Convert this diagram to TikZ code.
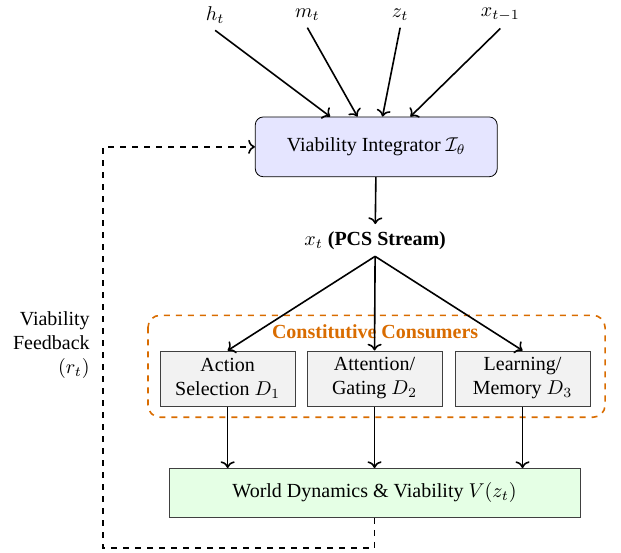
\documentclass[tikz,border=0pt]{standalone}
\usepackage{fontspec}
\setmainfont{Liberation Serif}
\usepackage{amsmath}
\usetikzlibrary{positioning, calc}
\usetikzlibrary{arrows.meta}

\begin{document}
\begin{tikzpicture}[
  every node/.style={font=\normalsize},
  integ/.style={draw, rounded corners=4pt, fill=blue!10, minimum width=4.25cm, minimum height=1.05cm},
  consumer/.style={draw=black!75, fill=gray!10, minimum width=2.37cm, minimum height=0.97cm, align=center, inner sep=2pt},
  world/.style={draw=black!75, fill=green!10, minimum width=7.22cm, minimum height=0.86cm},
  flow/.style={->, thick},
  fb/.style={->, thick, dashed}
]
  \useasboundingbox (0,0) rectangle (10.91,-9.70);

  % Ingressi
  \node (ht)  at (3.78,-0.26) {$h_t$};
  \node (mt)  at (5.40,-0.26) {$m_t$};
  \node (zt)  at (7.03,-0.26) {$z_t$};
  \node (xt1) at (8.79,-0.26) {$x_{t-1}$};

  % Integratore e flusso
  \node[integ] (I) at (6.61,-2.58) {Viability Integrator $\mathcal{I}_\theta$};
  \node (xt) at (6.59,-4.22) {$x_t$ \textbf{(PCS Stream)}};

  % Consumatori
  \draw[orange!85!black, dashed, thick, rounded corners=6pt] (2.60,-5.54) rectangle (10.63,-7.33);
  \node[text=orange!85!black, font=\bfseries] (cc) at (6.59,-5.82) {Constitutive Consumers};
  \node[consumer] (D1) at (4.00,-6.65) {Action\\Selection $D_1$};
  \node[consumer] (D2) at (6.58,-6.65) {Attention/\\Gating $D_2$};
  \node[consumer] (D3) at (9.18,-6.65) {Learning/\\Memory $D_3$};

  \node[world] (W) at (6.58,-8.66) {World Dynamics \& Viability $V(z_t)$};

  % Archi
  \draw[flow] (ht.south)  -- ($(I.north)+(-0.81,0)$);
  \draw[flow] (mt.south)  -- ($(I.north)+(-0.33,0)$);
  \draw[flow] (zt.south)  -- ($(I.north)+(0.11,0)$);
  \draw[flow] (xt1.south) -- ($(I.north)+(0.60,0)$);
  \draw[flow] (I) -- (xt);
  \draw[flow] (xt.south) -- (D1.north);
  \draw[flow] (xt.south) -- (D2.north);
  \draw[flow] (xt.south) -- (D3.north);
  \draw[flow] (D1) -- (D1 |- W.north);
  \draw[flow] (D2) -- (D2 |- W.north);
  \draw[flow] (D3) -- (D3 |- W.north);

  % Retroazione
  \coordinate (fbl) at (1.81,-9.63);
  \draw[fb] (W.south) |- (fbl) |- (I.west);
  \node[align=right, anchor=east] (fbtxt) at (1.70,-6.06) {Viability\\Feedback\\$(r_t)$};
\end{tikzpicture}
\end{document}
